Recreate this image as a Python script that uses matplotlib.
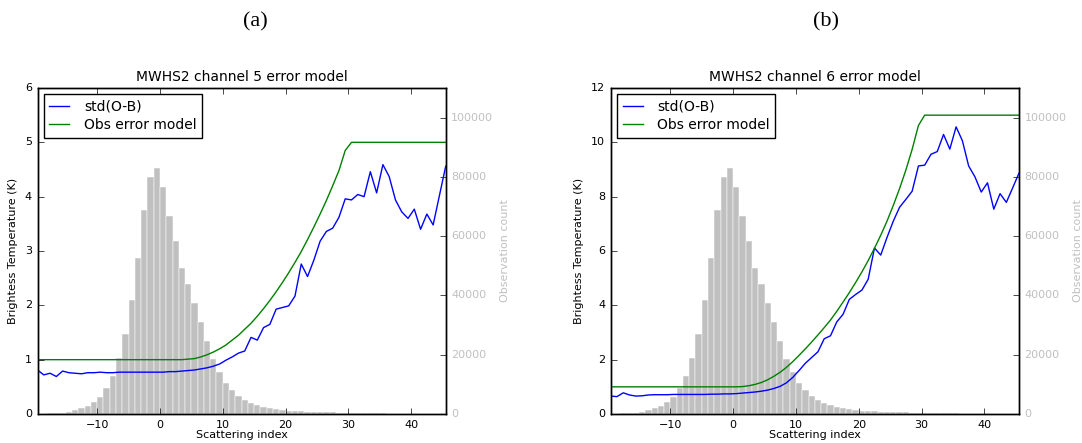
import matplotlib
matplotlib.use("Agg")
import matplotlib.pyplot as plt
import numpy as np

plt.style.use("classic")
plt.rcParams["font.family"] = ["DejaVu Sans"]
plt.rcParams["figure.facecolor"] = "white"
plt.rcParams["xtick.labelsize"] = 8
plt.rcParams["ytick.labelsize"] = 8
plt.rcParams["axes.labelsize"] = 8
plt.rcParams["axes.titlesize"] = 10
plt.rcParams["legend.fontsize"] = 10

# scattering index bin centres
scatter_idx = np.arange(-19.5, 46, 1.0)

# observation count per bin (same sample for both channels)
obs_count = [100, 150, 200, 300, 450, 790, 1250, 1910, 2800, 4160,
             5900, 8800, 12900, 18900, 26900, 38500, 52700, 68700, 80100, 82900,
             76600, 66700, 58400, 49400, 43900, 37500, 31200, 24600, 18600, 14100,
             10600, 8000, 6100, 4700, 3700, 3000, 2400, 1900, 1600, 1350,
             1150, 1000, 900, 800, 750, 700, 600, 550, 480, 450,
             350, 300, 260, 230, 200, 180, 160, 140, 130, 120,
             110, 100, 90, 80, 70, 60]

# channel 5
std_ch5 = [0.81, 0.72, 0.75, 0.69, 0.79, 0.76, 0.75, 0.74, 0.76, 0.76,
           0.77, 0.76, 0.76, 0.77, 0.77, 0.77, 0.77, 0.77, 0.77, 0.77,
           0.77, 0.78, 0.78, 0.79, 0.80, 0.81, 0.83, 0.85, 0.88, 0.92,
           0.99, 1.05, 1.12, 1.16, 1.41, 1.36, 1.59, 1.65, 1.93, 1.96,
           1.99, 2.17, 2.76, 2.53, 2.83, 3.18, 3.36, 3.42, 3.62, 3.96,
           3.94, 4.04, 4.00, 4.46, 4.07, 4.59, 4.37, 3.94, 3.72, 3.60,
           3.77, 3.40, 3.68, 3.48, 4.02, 4.56]
model_ch5 = [1.0] * 24 + [1.01, 1.02, 1.05, 1.09, 1.14, 1.20, 1.27, 1.36, 1.45, 1.56,
                          1.67, 1.80, 1.94, 2.09, 2.25, 2.42, 2.60, 2.79, 2.99, 3.21,
                          3.44, 3.68, 3.93, 4.20, 4.48, 4.85] + [5.0] * 16

# channel 6
std_ch6 = [0.66, 0.64, 0.78, 0.70, 0.66, 0.67, 0.70, 0.71, 0.71, 0.71,
           0.72, 0.72, 0.72, 0.72, 0.72, 0.72, 0.73, 0.73, 0.74, 0.74,
           0.75, 0.77, 0.79, 0.81, 0.84, 0.88, 0.94, 1.02, 1.15, 1.35,
           1.60, 1.87, 2.08, 2.29, 2.77, 2.88, 3.39, 3.67, 4.22, 4.40,
           4.56, 4.96, 6.11, 5.85, 6.50, 7.10, 7.61, 7.90, 8.20, 9.13,
           9.16, 9.56, 9.66, 10.29, 9.75, 10.57, 10.06, 9.13, 8.73, 8.17,
           8.51, 7.54, 8.11, 7.79, 8.32, 8.86]
model_ch6 = [1.0] * 21 + [1.01, 1.04, 1.09, 1.16, 1.26, 1.39, 1.54, 1.72, 1.93, 2.16,
                          2.40, 2.65, 2.91, 3.18, 3.46, 3.78, 4.12, 4.47, 4.84, 5.23,
                          5.65, 6.10, 6.58, 7.10, 7.68, 8.30, 8.98, 9.74, 10.62] + [11.0] * 16

W, H = 1082.0, 443.0
fig = plt.figure(figsize=(W / 100, H / 100), dpi=100)


def draw_panel(left_px, std, model, ymax, ystep, title, tag, tag_x):
    ax = fig.add_axes([left_px / W, 29 / H, 408.2 / W, 326 / H])
    ax2 = ax.twinx()

    # histogram of observation counts on the right axis
    ax2.bar(scatter_idx, obs_count, width=1.0, color="#c0c0c0",
            edgecolor="white", linewidth=0.35)
    ax2.set_ylim(0, 110000)
    ax2.set_yticks(np.arange(0, 100001, 20000))
    ax2.ticklabel_format(axis="y", style="plain", useOffset=False)
    ax2.tick_params(axis="y", labelcolor="#c0c0c0")
    ax2.set_ylabel("Observation count", color="#c0c0c0")

    # lines in front of the bars
    ax.set_zorder(ax2.get_zorder() + 1)
    ax.patch.set_visible(False)
    ax.plot(scatter_idx, std, color="b", lw=1.0, label="std(O-B)")
    ax.plot(scatter_idx, model, color="g", lw=1.0, label="Obs error model")

    ax.set_xlim(-19.5, 45.5)
    ax.set_xticks([-10, 0, 10, 20, 30, 40])
    ax.set_ylim(0, ymax)
    ax.set_yticks(np.arange(0, ymax + 0.1, ystep))
    ax.set_xlabel("Scattering index", labelpad=0.5)
    ax.set_ylabel("Brightess Temperature (K)")
    ax.set_title(title)
    ax.legend(loc="upper left", borderaxespad=0.45, handlelength=1.45,
              handletextpad=1.05, labelspacing=0.3, borderpad=0.4,
              fancybox=False, numpoints=1)

    fig.text(tag_x / W, 1 - 22 / H, tag, ha="center", va="center",
             fontsize=16, family="Liberation Serif")


draw_panel(37.5, std_ch5, model_ch5, 6, 1, "MWHS2 channel 5 error model", "(a)", 255)
draw_panel(610.7, std_ch6, model_ch6, 12, 2, "MWHS2 channel 6 error model", "(b)", 826)

fig.savefig("out.png", dpi=100, facecolor="white")
